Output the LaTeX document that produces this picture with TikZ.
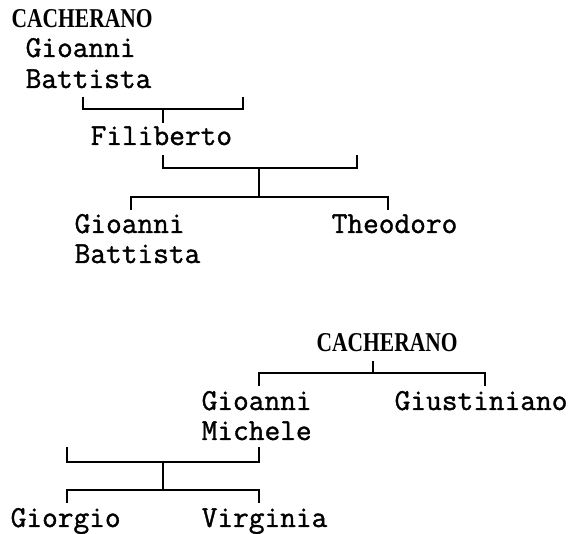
\documentclass[tikz,border=0pt]{standalone}
\usepackage{fontspec}
\usepackage{graphicx}
\newfontfamily\capsfont{Liberation Serif}
\newfontfamily\monofont{Latin Modern Mono}[FakeBold=1.2]
\begin{document}
\begin{tikzpicture}[x=1pt,y=-1pt,
  nm/.style={anchor=base west,inner sep=0pt,font=\fontsize{30.5}{31}\monofont},
  fam/.style={anchor=base west,inner sep=0pt,font=\fontsize{27.2}{28}\capsfont\bfseries},
  ln/.style={line width=1.8pt,line cap=butt,line join=miter}]
\useasboundingbox (0,0) rectangle (574,534);
% ---------- upper tree ----------
\node[fam] (cach1) at (11.5,28) {\scalebox{0.79}[1]{CACHERANO}};
\node[nm] (gb1a) at (25.5,57) {Gioanni};
\node[nm] (gb1b) at (25.5,88) {Battista};
\node[nm] (fil) at (90.5,145) {Filiberto};
\node[nm] (gb2a) at (74.5,233) {Gioanni};
\node[nm] (gb2b) at (74.5,263) {Battista};
\node[nm] (theo) at (331.5,233) {Theodoro};
% bracket 1
\coordinate (b1l) at (83,97);
\coordinate (b1r) at (243,97);
\coordinate (b1c) at (163,109);
\coordinate (b1f) at (163,123);
\draw[ln] (b1l) |- (b1r |- b1c) -- (b1r);
\draw[ln] (b1c) -- (b1f);
% bracket 2
\coordinate (b2l) at (163,155);
\coordinate (b2r) at (357,155);
\coordinate (b2c) at (259,168);
\coordinate (b2d) at (259,197);
\coordinate (b2gl) at (131,210);
\coordinate (b2gr) at (388,210);
\draw[ln] (b2l) |- (b2r |- b2c) -- (b2r);
\draw[ln] (b2c) -- (b2d);
\draw[ln] (b2gl) |- (b2gr |- b2d) -- (b2gr);
% ---------- lower tree ----------
\node[fam] (cach2) at (316.5,352) {\scalebox{0.79}[1]{CACHERANO}};
\node[nm] (gma) at (201.5,410) {Gioanni};
\node[nm] (gmb) at (201.5,440) {Michele};
\node[nm] (giu) at (394.5,410) {Giustiniano};
\node[nm] (gio) at (10.5,527) {Giorgio};
\node[nm] (vir) at (201.5,527) {Virginia};
% bracket 3
\coordinate (b3t) at (373,361);
\coordinate (b3c) at (373,373);
\coordinate (b3l) at (259,386);
\coordinate (b3r) at (485,386);
\draw[ln] (b3t) -- (b3c);
\draw[ln] (b3l) |- (b3r |- b3c) -- (b3r);
% bracket 4
\coordinate (b4l) at (67,447);
\coordinate (b4r) at (259,447);
\coordinate (b4c) at (163,462);
\coordinate (b4d) at (163,490);
\coordinate (b4gl) at (67,503);
\coordinate (b4gr) at (259,503);
\draw[ln] (b4l) |- (b4r |- b4c) -- (b4r);
\draw[ln] (b4c) -- (b4d);
\draw[ln] (b4gl) |- (b4gr |- b4d) -- (b4gr);
\end{tikzpicture}
\end{document}
